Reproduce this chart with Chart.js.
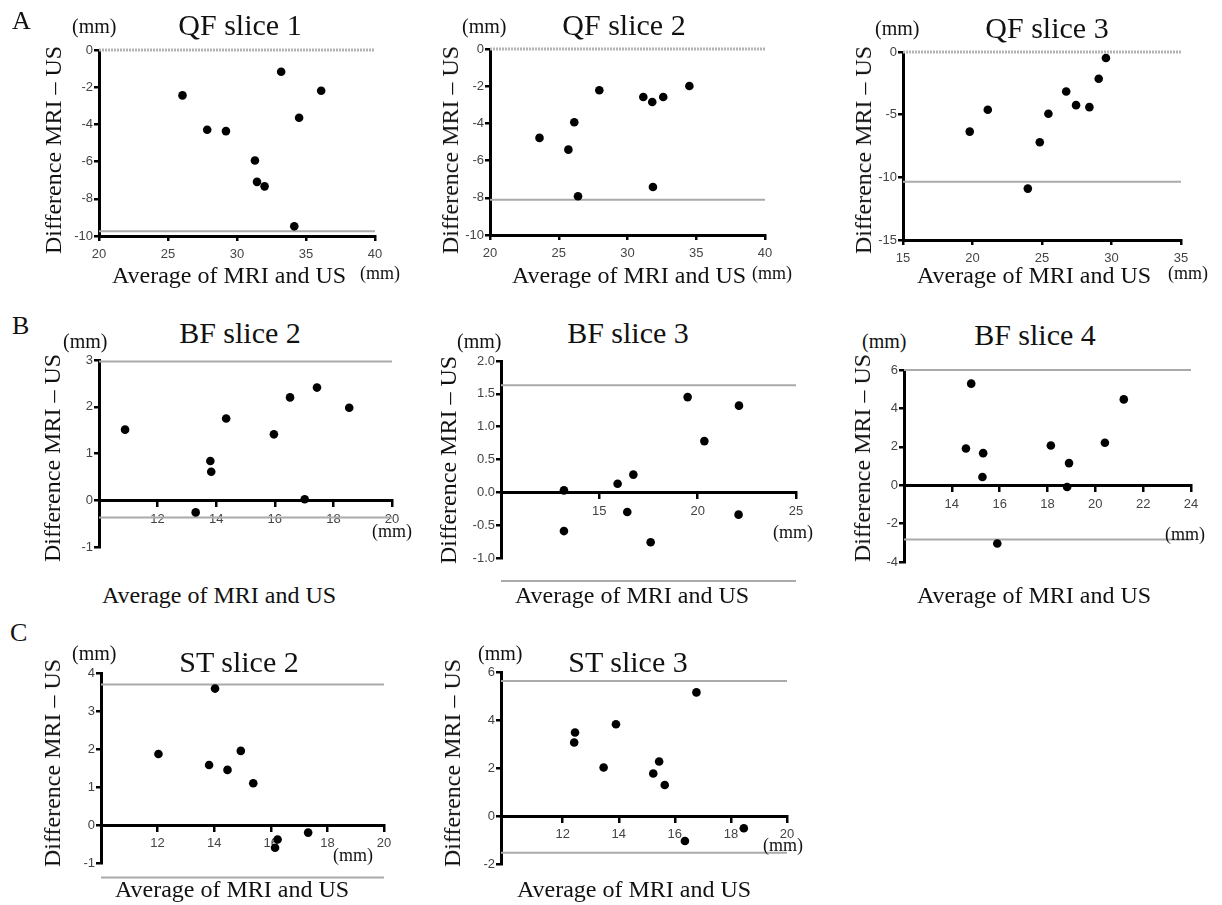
<!DOCTYPE html>
<html>
<head>
<meta charset="utf-8">
<script src="https://cdn.jsdelivr.net/npm/chart.js@4.4.1/dist/chart.umd.min.js"></script>
<style>
  body { margin: 0; background: #fff; }
  #fig { position: relative; width: 1222px; height: 905px; overflow: hidden;
         font-family: "Liberation Serif", "Times New Roman", serif; color: #111; }
  #fig canvas { position: absolute; }
  .t { position: absolute; white-space: nowrap; line-height: 1; }
</style>
</head>
<body>
<div id="fig"></div>
<script>
// values (mm)
const titles = ['QF slice 1', 'QF slice 2', 'QF slice 3', 'BF slice 2', 'BF slice 3', 'BF slice 4', 'ST slice 2', 'ST slice 3'];
const panelLetters = ['A', 'B', 'C'];

const qf1X = [26.05, 27.84, 29.2, 31.3, 31.45, 32.0, 33.2, 34.15, 34.5, 36.1];
const qf1Y = [-2.44, -4.29, -4.36, -5.94, -7.09, -7.33, -1.17, -9.48, -3.64, -2.19];
const qf1Limits = [0, -9.75];

const qf2X = [23.6, 25.7, 26.13, 26.4, 27.95, 31.15, 31.8, 31.85, 32.6, 34.5];
const qf2Y = [-4.78, -5.41, -3.94, -7.92, -2.22, -2.58, -2.85, -7.42, -2.58, -1.99];
const qf2Limits = [0, -8.1];

const qf3X = [19.8, 21.1, 23.98, 24.84, 25.46, 26.74, 27.45, 28.41, 29.08, 29.6];
const qf3Y = [-6.35, -4.61, -10.9, -7.2, -4.93, -3.15, -4.24, -4.4, -2.13, -0.48];
const qf3Limits = [0, -10.35];

const bf2X = [10.89, 13.3, 13.8, 13.83, 14.34, 15.97, 16.52, 17.02, 17.44, 18.54];
const bf2Y = [1.51, -0.26, 0.84, 0.61, 1.75, 1.41, 2.2, 0.02, 2.41, 1.98];
const bf2Limits = [2.97, -0.37];

const bf3X = [13.2, 13.2, 15.93, 16.42, 16.73, 17.61, 19.49, 20.34, 22.1, 22.08];
const bf3Y = [0.03, -0.59, 0.13, -0.30, 0.27, -0.76, 1.45, 0.78, 1.32, -0.34];
const bf3Limits = [1.63, -1.35];

const bf4X = [14.59, 14.81, 15.28, 15.31, 15.9, 18.14, 18.82, 18.9, 20.4, 21.19];
const bf4Y = [1.91, 5.29, 0.43, 1.67, -3.04, 2.07, -0.09, 1.15, 2.21, 4.47];
const bf4Limits = [6.0, -2.83];

const st2X = [12.03, 13.82, 14.03, 14.47, 14.94, 15.38, 16.15, 16.24, 17.32];
const st2Y = [1.87, 1.58, 3.59, 1.45, 1.95, 1.10, -0.6, -0.38, -0.2];
const st2Limits = [3.7, -1.38];

const st3X = [12.41, 12.44, 13.46, 13.9, 15.23, 15.44, 15.64, 16.36, 16.77, 18.46];
const st3Y = [3.06, 3.48, 2.02, 3.82, 1.77, 2.27, 1.29, -1.04, 5.15, -0.51];
const st3Limits = [5.63, -1.53];

// axis ranges and tick labels
const qfXRange = [20, 40];
const qfXTicks = [20, 25, 30, 35, 40];
const qfYTicks = [-10, -8, -6, -4, -2, 0];
const qf3XRange = [15, 35];
const qf3XTicks = [15, 20, 25, 30, 35];
const qf3YTicks = [-15, -10, -5, 0];
const bf2XRange = [10, 20];
const bf2XTicks = [12, 14, 16, 18, 20];
const bf2YTicks = [-1, 0, 1, 2, 3];
const bf3XRange = [10, 25];
const bf3XTicks = [15, 20, 25];
const bf3YTicks = [-1.0, -0.5, 0.0, 0.5, 1.0, 1.5, 2.0];
const bf4XRange = [12, 24];
const bf4XTicks = [14, 16, 18, 20, 22, 24];
const bf4YTicks = [-4, -2, 0, 2, 4, 6];
const st2XRange = [10, 20];
const st2XTicks = [12, 14, 16, 18, 20];
const st2YTicks = [-1, 0, 1, 2, 3, 4];
const st3XRange = [9.8, 20];
const st3XTicks = [12, 14, 16, 18, 20];
const st3YTicks = [-2, 0, 2, 4, 6];

const yDecimals = [0, 0, 0, 0, 1, 0, 0, 0];

// page layout for each panel: plot area, and where the texts sit
const panels = [
  { x: qf1X, y: qf1Y, lim: qf1Limits, xr: qfXRange, xt: qfXTicks, yt: qfYTicks,
    area: [99, 49.5, 375, 235], mid: false, title: [240, 35], yUnit: [72, 33], xUnit: [360, 279], xTitle: [112, 283], yTitle: [53, 150] },
  { x: qf2X, y: qf2Y, lim: qf2Limits, xr: qfXRange, xt: qfXTicks, yt: qfYTicks,
    area: [490, 49.3, 765, 235], mid: false, title: [624, 35], yUnit: [462, 33], xUnit: [752, 279], xTitle: [512, 283], yTitle: [450, 150] },
  { x: qf3X, y: qf3Y, lim: qf3Limits, xr: qf3XRange, xt: qf3XTicks, yt: qf3YTicks,
    area: [903, 52.3, 1181, 240], mid: false, title: [1047, 38], yUnit: [875, 35], xUnit: [1168, 279], xTitle: [917, 283], yTitle: [863, 150] },
  { x: bf2X, y: bf2Y, lim: bf2Limits, xr: bf2XRange, xt: bf2XTicks, yt: bf2YTicks,
    area: [99, 360, 392, 546.7], mid: true, title: [240, 343], yUnit: [63, 348], xUnit: [372, 537], xTitle: [102, 603], yTitle: [52, 458] },
  { x: bf3X, y: bf3Y, lim: bf3Limits, xr: bf3XRange, xt: bf3XTicks, yt: bf3YTicks,
    area: [501, 361, 796, 558.3], mid: true, title: [628, 343], yUnit: [457, 348], xUnit: [773, 538], xTitle: [515, 603], yTitle: [448, 460] },
  { x: bf4X, y: bf4Y, lim: bf4Limits, xr: bf4XRange, xt: bf4XTicks, yt: bf4YTicks,
    area: [904, 370, 1191, 561.7], mid: true, title: [1035, 345], yUnit: [862, 348], xUnit: [1165, 540], xTitle: [917, 603], yTitle: [862, 458] },
  { x: st2X, y: st2Y, lim: st2Limits, xr: st2XRange, xt: st2XTicks, yt: st2YTicks,
    area: [101, 672.7, 384.3, 862.3], mid: true, title: [239, 672], yUnit: [72, 660], xUnit: [333, 861], xTitle: [115, 897], yTitle: [52, 763] },
  { x: st3X, y: st3Y, lim: st3Limits, xr: st3XRange, xt: st3XTicks, yt: st3YTicks,
    area: [500.7, 671.7, 786.7, 863.3], mid: true, title: [628, 672], yUnit: [478, 660], xUnit: [763, 851], xTitle: [517, 897], yTitle: [452, 763] }
];

const letterPos = [[12, 30], [12, 335], [10, 642]];

const fig = document.getElementById('fig');

Chart.defaults.font.family = '"Liberation Sans", Arial, sans-serif';
Chart.defaults.color = '#444';

const addText = (str, x, baseline, size, center) => {
  const d = document.createElement('div');
  d.className = 't';
  d.textContent = str;
  d.style.fontSize = size + 'px';
  d.style.left = x + 'px';
  d.style.top = (baseline - 0.8375 * size) + 'px';
  if (center) d.style.transform = 'translateX(-50%)';
  fig.appendChild(d);
};

const addRotated = (str, cx, cy, size) => {
  const d = document.createElement('div');
  d.className = 't';
  d.textContent = str;
  d.style.fontSize = size + 'px';
  d.style.left = cx + 'px';
  d.style.top = cy + 'px';
  d.style.transform = 'translate(-50%, -50%) rotate(-90deg)';
  fig.appendChild(d);
};

const PAD_L = 45, PAD_T = 10, PAD_R = 14, PAD_B = 30;

panels.forEach((p, i) => {
  const [l, t, r, b] = p.area;
  const canvas = document.createElement('canvas');
  const w = Math.round(r - l + PAD_L + PAD_R);
  const h = Math.round(b - t + PAD_T + PAD_B);
  canvas.width = w;
  canvas.height = h;
  canvas.style.width = w + 'px';
  canvas.style.height = h + 'px';
  canvas.style.left = (l - PAD_L) + 'px';
  canvas.style.top = (t - PAD_T) + 'px';
  fig.appendChild(canvas);

  // limits of agreement, the top one in A is a dotted band at zero
  const limitSets = p.lim.map((v, k) => {
    const dotted = i < 3 && k === 0;
    return {
      type: 'scatter',
      data: [{ x: p.xr[0], y: v }, { x: p.xr[1], y: v }],
      showLine: true,
      borderColor: dotted ? '#b3b3b3' : '#aaaaaa',
      borderWidth: dotted ? 3 : 2,
      borderDash: dotted ? [2, 1] : [],
      pointRadius: 0,
      clip: false,
      order: 2
    };
  });

  const axisGrid = { display: true, drawOnChartArea: false, drawTicks: true, tickLength: 5, color: '#000', lineWidth: 2.5 };
  const tickFont = { size: 13 };

  new Chart(canvas, {
    type: 'scatter',
    data: {
      datasets: [{
        data: p.x.map((x, k) => ({ x: x, y: p.y[k] })),
        backgroundColor: '#000',
        borderWidth: 0,
        pointRadius: 4.3,
        pointHoverRadius: 4.3,
        clip: false,
        order: 1
      }, ...limitSets]
    },
    options: {
      responsive: false,
      animation: false,
      devicePixelRatio: 1,
      layout: { padding: { left: 0, top: PAD_T, right: PAD_R, bottom: p.mid ? PAD_B : 0 } },
      plugins: { legend: { display: false }, tooltip: { enabled: false } },
      scales: {
        x: {
          type: 'linear',
          min: p.xr[0],
          max: p.xr[1],
          position: p.mid ? { y: 0 } : 'bottom',
          afterBuildTicks: s => { s.ticks = p.xt.map(v => ({ value: v })); },
          afterFit: s => { s.height = PAD_B; },
          grid: axisGrid,
          border: { display: true, color: '#000', width: 3 },
          ticks: { font: tickFont, color: '#444', padding: 6, maxRotation: 0, autoSkip: false }
        },
        y: {
          type: 'linear',
          min: p.yt[0],
          max: p.yt[p.yt.length - 1],
          afterBuildTicks: s => { s.ticks = p.yt.map(v => ({ value: v })); },
          afterFit: s => { s.width = PAD_L; },
          grid: axisGrid,
          border: { display: true, color: '#000', width: 3 },
          ticks: {
            font: tickFont, color: '#444', padding: 1, autoSkip: false,
            callback: v => Number(v).toFixed(yDecimals[i])
          }
        }
      }
    }
  });

  addText(titles[i], p.title[0], p.title[1], 30, true);
  addText('(mm)', p.yUnit[0], p.yUnit[1], 20, false);
  addText('(mm)', p.xUnit[0], p.xUnit[1], 18, false);
  addText('Average of MRI and US', p.xTitle[0], p.xTitle[1], 24, false);
  addRotated('Difference MRI \u2013 US', p.yTitle[0], p.yTitle[1], 24);
});

panelLetters.forEach((s, k) => addText(s, letterPos[k][0], letterPos[k][1], 26, false));
</script>
</body>
</html>
